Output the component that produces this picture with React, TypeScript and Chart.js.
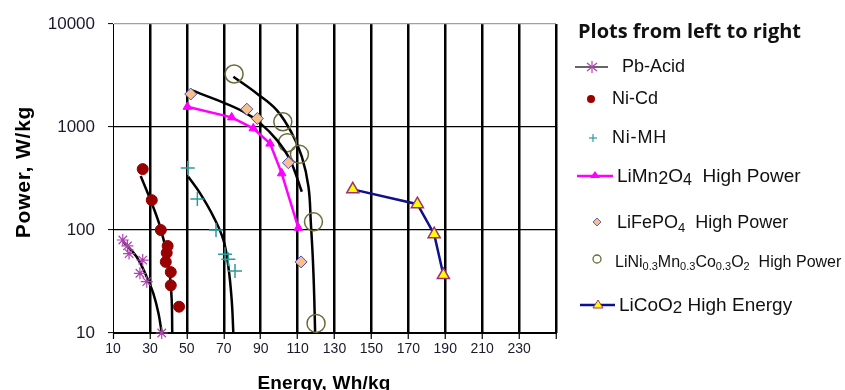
import React, { useEffect, useRef } from "react";
import { Chart, registerables } from "chart.js";

Chart.register(...registerables);

// ---- Data ----
const xTicks = [10, 30, 50, 70, 90, 110, 130, 150, 170, 190, 210, 230, 250];
const xTickLabels = ["10", "30", "50", "70", "90", "110", "130", "150", "170", "190", "210", "230", ""];
const yTicks = [10, 100, 1000, 10000];
const yTickLabels = ["10", "100", "1000", "10000"];

const pbAcidX = [15.3, 17.8, 18.7, 26.1, 24.6, 28.3, 36.4];
const pbAcidY = [80, 70, 59, 51, 38, 31.5, 10];
const pbAcidFitX = [15.6, 22.8, 28.3, 31.8, 34.6, 36.4];
const pbAcidFitY = [77, 55, 35, 24.4, 15.6, 10];

const niCdX = [26.1, 31, 35.9, 39.6, 39.1, 38.6, 41.3, 41.3, 45.8];
const niCdY = [390, 195, 100, 70, 60, 49, 39, 29, 18];
const niCdFitX = [25, 31, 35.5, 39.1, 40.9, 41.8, 42.1];
const niCdFitY = [334, 182, 108, 59, 35, 21, 10];

const niMhX = [50.5, 55.7, 65.8, 70.7, 72.5, 76.1];
const niMhY = [400, 200, 100, 58, 52, 40];
const niMhFitX = [50.8, 57.2, 64.4, 69.8, 72.5, 74.3, 75.2];
const niMhFitY = [329, 227, 135, 80, 44, 21, 10];

const liMnX = [50.3, 74.3, 86, 95.1, 101.4, 110.4];
const liMnY = [1570, 1240, 970, 690, 355, 105];

const liFeX = [52.1, 82.5, 88.2, 105, 111.9];
const liFeY = [2090, 1490, 1210, 450, 49];
const liFeFitX = [52.1, 66.2, 80.6, 89.7, 98.7, 105.9, 112.3];
const liFeFitY = [2290, 1830, 1410, 1090, 750, 480, 235];

const liNiX = [75.6, 102, 104.5, 111, 118.6, 120];
const liNiY = [3270, 1125, 705, 543, 120, 12.4];
const liNiFitX = [75.2, 87.9, 98.7, 106.9, 112.3, 115.9, 117.2, 118.3, 119, 119.5];
const liNiFitY = [3080, 2120, 1460, 870, 515, 263, 116, 51, 23, 10];

const liCoX = [139.9, 174.9, 184, 189];
const liCoY = [248, 178, 91, 36.5];

const pts = (xs: number[], ys: number[]) => xs.map((x, i) => ({ x, y: ys[i] }));

const FONT = "'Liberation Sans', Arial, sans-serif";

function markers(label: string, xs: number[], ys: number[], style: any) {
  return {
    label,
    data: pts(xs, ys),
    showLine: false,
    clip: false,
    ...style,
  };
}

function fit(label: string, xs: number[], ys: number[]) {
  return {
    label,
    data: pts(xs, ys),
    showLine: true,
    pointRadius: 0,
    borderColor: "#000",
    borderWidth: 2.5,
    tension: 0.4,
    fill: false,
  };
}

export default function App() {
  const canvasRef = useRef<HTMLCanvasElement | null>(null);

  useEffect(() => {
    document.body.style.margin = "0";
    const canvas = canvasRef.current;
    if (!canvas) return;
    const chart = new Chart(canvas, {
      type: "scatter",
      data: {
        datasets: [
          markers("Pb-Acid", pbAcidX, pbAcidY, {
            pointStyle: "star",
            pointRadius: 6,
            borderColor: "#b040b0",
            backgroundColor: "#b040b0",
            borderWidth: 1.2,
          }),
          fit("Pb-Acid fit", pbAcidFitX, pbAcidFitY),
          markers("Ni-Cd", niCdX, niCdY, {
            pointStyle: "circle",
            pointRadius: 5.5,
            borderColor: "#990000",
            backgroundColor: "#990000",
            borderWidth: 1,
          }),
          fit("Ni-Cd fit", niCdFitX, niCdFitY),
          markers("Ni-MH", niMhX, niMhY, {
            pointStyle: "cross",
            pointRadius: 7,
            borderColor: "#2e9b9b",
            backgroundColor: "#2e9b9b",
            borderWidth: 1.5,
          }),
          fit("Ni-MH fit", niMhFitX, niMhFitY),
          {
            label: "LiMn2O4 High Power",
            data: pts(liMnX, liMnY),
            showLine: true,
            borderColor: "#ff00ff",
            backgroundColor: "#ff00ff",
            borderWidth: 2.5,
            pointStyle: "triangle",
            pointRadius: 5,
            pointBorderWidth: 1,
            tension: 0,
          },
          markers("LiFePO4 High Power", liFeX, liFeY, {
            pointStyle: "rectRot",
            pointRadius: 6,
            borderColor: "#4848c8",
            backgroundColor: "#f5c08a",
            borderWidth: 1,
          }),
          fit("LiFePO4 fit", liFeFitX, liFeFitY),
          markers("LiNi0.3Mn0.3Co0.3O2 High Power", liNiX, liNiY, {
            pointStyle: "circle",
            pointRadius: 9,
            borderColor: "#6b6b3a",
            backgroundColor: "rgba(0,0,0,0)",
            borderWidth: 1.5,
          }),
          fit("LiNi fit", liNiFitX, liNiFitY),
          {
            label: "LiCoO2 High Energy",
            data: pts(liCoX, liCoY),
            showLine: true,
            borderColor: "#10108a",
            backgroundColor: "#ffff00",
            borderWidth: 2.5,
            pointStyle: "triangle",
            pointRadius: 7,
            pointBorderColor: "#a03070",
            pointBackgroundColor: "#ffff00",
            pointBorderWidth: 1.5,
            tension: 0,
            clip: false,
          },
        ] as any,
      },
      options: {
        responsive: false,
        animation: false,
        layout: { padding: { left: 0, top: 24, right: 289, bottom: 0 } },
        plugins: { legend: { display: false }, tooltip: { enabled: false } },
        scales: {
          x: {
            type: "linear",
            min: 10,
            max: 250,
            afterBuildTicks: (s: any) => {
              s.ticks = xTicks.map((v) => ({ value: v }));
            },
            afterFit: (s: any) => {
              s.height = 57;
            },
            ticks: {
              autoSkip: false,
              maxRotation: 0,
              padding: 2,
              color: "#1a1a2a",
              font: { family: FONT, size: 14 },
              callback: (_v: any, i: number) => xTickLabels[i],
            },
            grid: {
              color: "#000",
              lineWidth: (c: any) => (c.index === 0 ? 1 : 2.5),
              tickLength: 6,
              tickWidth: 1.2,
              tickColor: "#000",
            },
            border: { display: true, color: "#000", width: 1 },
            title: { display: false },
          },
          y: {
            type: "logarithmic",
            min: 10,
            max: 10000,
            afterBuildTicks: (s: any) => {
              s.ticks = yTicks.map((v) => ({ value: v, major: true }));
            },
            afterFit: (s: any) => {
              s.width = 113;
            },
            ticks: {
              padding: 13,
              color: "#1a1a2a",
              font: { family: FONT, size: 17 },
              callback: (_v: any, i: number) => yTickLabels[i],
            },
            grid: {
              color: (c: any) => (c.tick && c.tick.value === 10000 ? "#a0a0a0" : "#000"),
              lineWidth: 1.2,
              tickLength: 5,
              tickWidth: 1,
              tickColor: "#000",
            },
            border: { display: true, color: "#000", width: 1 },
            title: { display: false },
          },
        },
      } as any,
    });
    return () => chart.destroy();
  }, []);

  const txt = (
    left: number,
    cy: number,
    size: number,
    content: React.ReactNode,
    bold = false,
    family = FONT,
    spacing = 0
  ) => (
    <div
      style={{
        position: "absolute",
        left,
        top: cy - size * 0.6,
        height: size * 1.2,
        lineHeight: `${size * 1.2}px`,
        fontFamily: family,
        fontSize: size,
        fontWeight: bold ? "bold" : "normal",
        letterSpacing: spacing,
        color: "#111",
        whiteSpace: "pre",
      }}
    >
      {content}
    </div>
  );

  const sub = (s: string, size = 12, shift = -3) => (
    <span style={{ fontSize: size, verticalAlign: shift, lineHeight: 0 }}>{s}</span>
  );

  return (
    <div style={{ position: "relative", width: 845, height: 390, overflow: "hidden", background: "#fff" }}>
      <canvas ref={canvasRef} width={845} height={390} style={{ display: "block" }} />
      <svg
        width={845}
        height={390}
        style={{ position: "absolute", left: 0, top: 0, pointerEvents: "none" }}
      >
        {/* Pb-Acid */}
        <line x1={575} y1={67} x2={608} y2={67} stroke="#333" strokeWidth={1.5} />
        <g stroke="#b040b0" strokeWidth={1.2}>
          <line x1={592} y1={61} x2={592} y2={73} />
          <line x1={587} y1={63} x2={597} y2={71} />
          <line x1={587} y1={71} x2={597} y2={63} />
        </g>
        {/* Ni-Cd */}
        <circle cx={591} cy={99} r={4} fill="#990000" />
        {/* Ni-MH */}
        <g stroke="#2e9b9b" strokeWidth={1.2}>
          <line x1={589} y1={138} x2={597} y2={138} />
          <line x1={593} y1={134} x2={593} y2={142} />
        </g>
        {/* LiMn2O4 */}
        <line x1={577} y1={176} x2={613} y2={176} stroke="#ff00ff" strokeWidth={2.5} />
        <polygon points="595,171 600,178 590,178" fill="#ff00ff" />
        {/* LiFePO4 */}
        <polygon points="597,218 601,222 597,226 593,222" fill="#f5c08a" stroke="#6060c0" strokeWidth={1} />
        {/* LiNi */}
        <circle cx={597} cy={259} r={4} fill="none" stroke="#6b6b3a" strokeWidth={1.3} />
        {/* LiCoO2 */}
        <line x1={580} y1={305} x2={615} y2={305} stroke="#10108a" strokeWidth={2.5} />
        <polygon points="598,300 603,308 593,308" fill="#ffff00" stroke="#a03070" strokeWidth={1} />
      </svg>

      {/* Axis titles */}
      <div
        style={{
          position: "absolute",
          left: 23,
          top: 172,
          transform: "translate(-50%, -50%) rotate(-90deg)",
          whiteSpace: "nowrap",
          fontFamily: FONT,
          fontWeight: "bold",
          fontSize: 21,
          letterSpacing: 0.8,
          lineHeight: "24px",
          color: "#000",
        }}
      >
        Power, W/kg
      </div>
      <div
        style={{
          position: "absolute",
          left: 324,
          top: 371,
          transform: "translateX(-50%)",
          whiteSpace: "nowrap",
          fontFamily: FONT,
          fontWeight: "bold",
          fontSize: 19,
          letterSpacing: 0.2,
          lineHeight: "23px",
          color: "#000",
        }}
      >
        Energy, Wh/kg
      </div>

      {txt(578, 31, 20, "Plots from left to right", true, "'Open Sans', " + FONT)}
      {txt(622, 67, 18, "Pb-Acid")}
      {txt(612, 99, 18, "Ni-Cd")}
      {txt(612, 138, 18, "Ni-MH", false, FONT, 0.8)}
      {txt(617, 176, 19, <>LiMn{sub("2", 18, -2)}O{sub("4", 16, -3)}  High Power</>)}
      {txt(617, 223, 18, <>LiFePO{sub("4", 13, -4)}  High Power</>)}
      {txt(615, 262, 16, <>LiNi{sub("0.3", 11)}Mn{sub("0.3", 11)}Co{sub("0.3", 11)}O{sub("2", 11)}  High Power</>)}
      {txt(619, 305, 19, <>LiCoO{sub("2", 17, -2)} High Energy</>)}
    </div>
  );
}
